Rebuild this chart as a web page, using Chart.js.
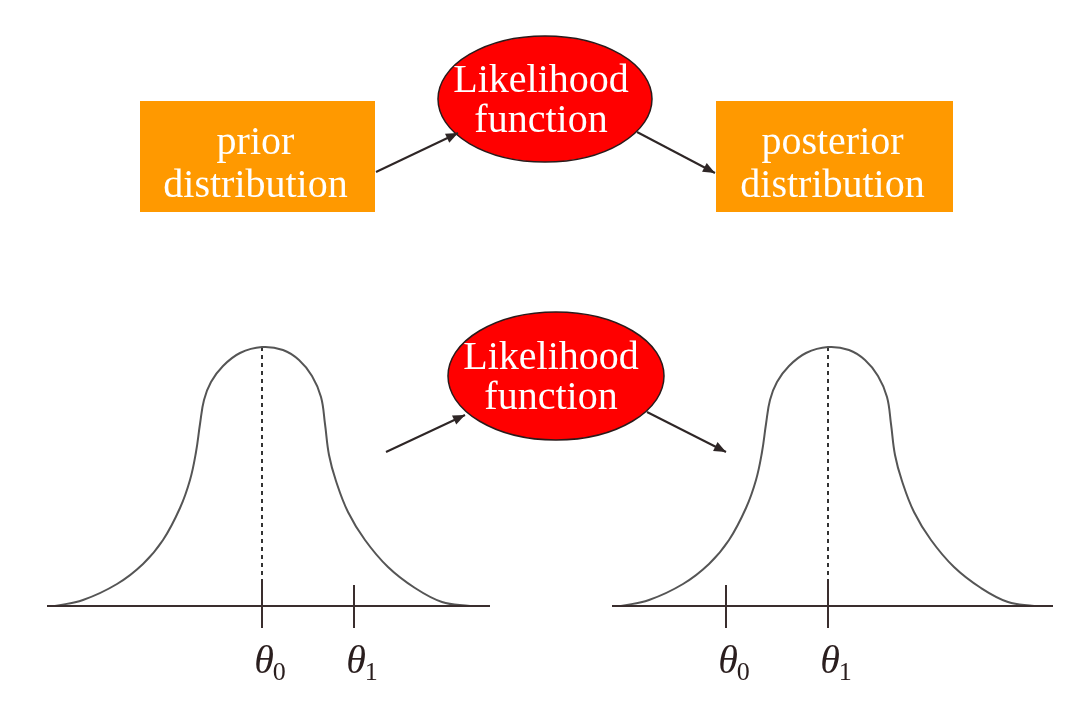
<!DOCTYPE html>
<html>
<head>
<meta charset="utf-8">
<script src="https://cdn.jsdelivr.net/npm/chart.js@4.4.0/dist/chart.umd.min.js"></script>
<style>
  html, body { margin: 0; padding: 0; background: #fff; }
  #wrap { width: 1080px; height: 712px; }
</style>
</head>
<body>
<div id="wrap"><canvas id="diagram" width="1080" height="712"></canvas></div>
<script>
// page units: x 0..1080 left to right, y 0..712 top to bottom

// prior density (bottom left)
const priorCurveX = [55, 83, 117, 143, 163, 180, 190, 196, 200, 204, 211, 223, 240, 262, 283, 299, 312, 321, 325, 329, 336, 348, 365, 388, 415, 442, 470];
const priorCurveY = [606, 600, 584, 564, 540, 508, 480, 452, 424, 400, 382, 366, 353, 347, 350, 360, 376, 397, 424, 455, 481, 512, 540, 567, 588, 602, 606];

// posterior density (bottom right)
const postCurveX = [621, 649, 683, 709, 729, 746, 756, 762, 766, 770, 777, 789, 806, 828, 849, 865, 878, 887, 891, 895, 902, 914, 931, 954, 981, 1008, 1034];
const postCurveY = [606, 600, 584, 564, 540, 508, 480, 452, 424, 400, 382, 366, 353, 347, 350, 360, 376, 397, 424, 455, 481, 512, 540, 567, 588, 602, 606];

// horizontal axes
const axisLeftX = [47, 490];
const axisRightX = [612, 1053];
const axisY = 606;

// theta ticks
const tickNames = ['θ', 'θ'];
const tickSubs = ['0', '1'];
const tickLeftX = [262, 354];
const tickRightX = [726, 828];
const tickLeftTop = [580, 585];
const tickRightTop = [585, 580];
const tickBottom = 628;
const tickLabelY = 673;

// dashed mode lines (peak to axis)
const modeLeft = [262, 347];
const modeRight = [828, 347];

// boxes
const boxLabels = [['prior', 'distribution'], ['posterior', 'distribution']];
const boxLeft = [140, 716];
const boxRight = [375, 953];
const boxTop = 101;
const boxBottom = 212;

// ellipses
const ellipseLabels = ['Likelihood', 'function'];
const ellipseCx = [545, 556];
const ellipseCy = [99, 376];
const ellipseRx = [107, 108];
const ellipseRy = [63, 64];
const ellipseTextX = [541, 551];

// arrows [x0, y0, x1, y1]
const arrows = [
  [376, 172, 458, 133],
  [637, 132, 715, 173],
  [386, 452, 465, 415],
  [647, 412, 726, 452]
];

const serif = "'Liberation Serif', 'DejaVu Serif', serif";
const ink = '#3a2e2e';

function pts(xs, ys) {
  return xs.map((x, i) => ({ x: x, y: Array.isArray(ys) ? ys[i] : ys }));
}

function lineSet(data, color, width, extra) {
  return Object.assign({
    data: data,
    showLine: true,
    borderColor: color,
    borderWidth: width,
    pointRadius: 0,
    fill: false,
    tension: 0
  }, extra || {});
}

const curveStyle = { tension: 0.4 };

const datasets = [];
datasets.push(lineSet(pts(axisLeftX, axisY), ink, 2));
datasets.push(lineSet(pts(axisRightX, axisY), ink, 2));
datasets.push(lineSet(pts(priorCurveX, priorCurveY), '#555555', 2, curveStyle));
datasets.push(lineSet(pts(postCurveX, postCurveY), '#555555', 2, curveStyle));
tickLeftX.forEach((x, i) => {
  datasets.push(lineSet([{ x: x, y: tickLeftTop[i] }, { x: x, y: tickBottom }], ink, 2));
});
tickRightX.forEach((x, i) => {
  datasets.push(lineSet([{ x: x, y: tickRightTop[i] }, { x: x, y: tickBottom }], ink, 2));
});
datasets.push(lineSet([{ x: modeLeft[0], y: modeLeft[1] }, { x: modeLeft[0], y: tickLeftTop[0] }], '#333', 2, { borderDash: [4, 4] }));
datasets.push(lineSet([{ x: modeRight[0], y: modeRight[1] }, { x: modeRight[0], y: tickRightTop[1] }], '#333', 2, { borderDash: [4, 4] }));
arrows.forEach(a => {
  datasets.push(lineSet([{ x: a[0], y: a[1] }, { x: a[2], y: a[3] }], '#2e2626', 2));
});

const diagramPlugin = {
  id: 'diagram',
  beforeDatasetsDraw(chart) {
    const ctx = chart.ctx;
    const sx = chart.scales.x, sy = chart.scales.y;
    ctx.save();
    // orange boxes
    ctx.fillStyle = '#FF9900';
    boxLeft.forEach((l, i) => {
      const x0 = sx.getPixelForValue(l), x1 = sx.getPixelForValue(boxRight[i]);
      const y0 = sy.getPixelForValue(boxTop), y1 = sy.getPixelForValue(boxBottom);
      ctx.fillRect(x0, y0, x1 - x0, y1 - y0);
    });
    // red ellipses
    ellipseCx.forEach((cx, i) => {
      const px = sx.getPixelForValue(cx), py = sy.getPixelForValue(ellipseCy[i]);
      const rx = sx.getPixelForValue(cx + ellipseRx[i]) - px;
      const ry = sy.getPixelForValue(ellipseCy[i] + ellipseRy[i]) - py;
      ctx.beginPath();
      ctx.ellipse(px, py, Math.abs(rx), Math.abs(ry), 0, 0, Math.PI * 2);
      ctx.fillStyle = '#FF0000';
      ctx.fill();
      ctx.lineWidth = 1.5;
      ctx.strokeStyle = '#2a1a1a';
      ctx.stroke();
    });
    ctx.restore();
  },
  afterDatasetsDraw(chart) {
    const ctx = chart.ctx;
    const sx = chart.scales.x, sy = chart.scales.y;
    ctx.save();
    // arrow heads
    ctx.fillStyle = '#2e2626';
    arrows.forEach(a => {
      const x0 = sx.getPixelForValue(a[0]), y0 = sy.getPixelForValue(a[1]);
      const x1 = sx.getPixelForValue(a[2]), y1 = sy.getPixelForValue(a[3]);
      const ang = Math.atan2(y1 - y0, x1 - x0);
      const len = 12, half = 5;
      ctx.beginPath();
      ctx.moveTo(x1, y1);
      ctx.lineTo(x1 - len * Math.cos(ang) + half * Math.sin(ang), y1 - len * Math.sin(ang) - half * Math.cos(ang));
      ctx.lineTo(x1 - len * Math.cos(ang) - half * Math.sin(ang), y1 - len * Math.sin(ang) + half * Math.cos(ang));
      ctx.closePath();
      ctx.fill();
    });

    // box and ellipse text
    ctx.fillStyle = '#ffffff';
    ctx.textAlign = 'center';
    ctx.textBaseline = 'alphabetic';
    ctx.font = '40px ' + serif;
    boxLabels.forEach((lines, i) => {
      const cx = sx.getPixelForValue((boxLeft[i] + boxRight[i]) / 2) - 2;
      ctx.fillText(lines[0], cx, sy.getPixelForValue(boxTop + 53));
      ctx.fillText(lines[1], cx, sy.getPixelForValue(boxTop + 96));
    });
    ellipseCx.forEach((cx, i) => {
      const tx = sx.getPixelForValue(ellipseTextX[i]);
      ctx.fillText(ellipseLabels[0], tx, sy.getPixelForValue(ellipseCy[i] - 7));
      ctx.fillText(ellipseLabels[1], tx, sy.getPixelForValue(ellipseCy[i] + 33));
    });

    // theta labels
    ctx.fillStyle = '#2a1e1e';
    const drawTheta = (x, i) => {
      const px = sx.getPixelForValue(x) + 2;
      const py = sy.getPixelForValue(tickLabelY);
      ctx.font = 'italic 40px ' + serif;
      ctx.textAlign = 'center';
      const w = ctx.measureText(tickNames[i]).width;
      ctx.fillText(tickNames[i], px, py);
      ctx.font = '26px ' + serif;
      ctx.textAlign = 'left';
      ctx.fillText(tickSubs[i], px + w / 2 - 1, py + 7);
    };
    tickLeftX.forEach(drawTheta);
    tickRightX.forEach(drawTheta);
    ctx.restore();
  }
};

new Chart(document.getElementById('diagram'), {
  type: 'scatter',
  data: { datasets: datasets },
  options: {
    responsive: false,
    animation: false,
    events: [],
    layout: { padding: 0 },
    plugins: {
      legend: { display: false },
      tooltip: { enabled: false }
    },
    scales: {
      x: { type: 'linear', min: 0, max: 1080, display: false },
      y: { type: 'linear', min: 0, max: 712, reverse: true, display: false }
    }
  },
  plugins: [diagramPlugin]
});
</script>
</body>
</html>
